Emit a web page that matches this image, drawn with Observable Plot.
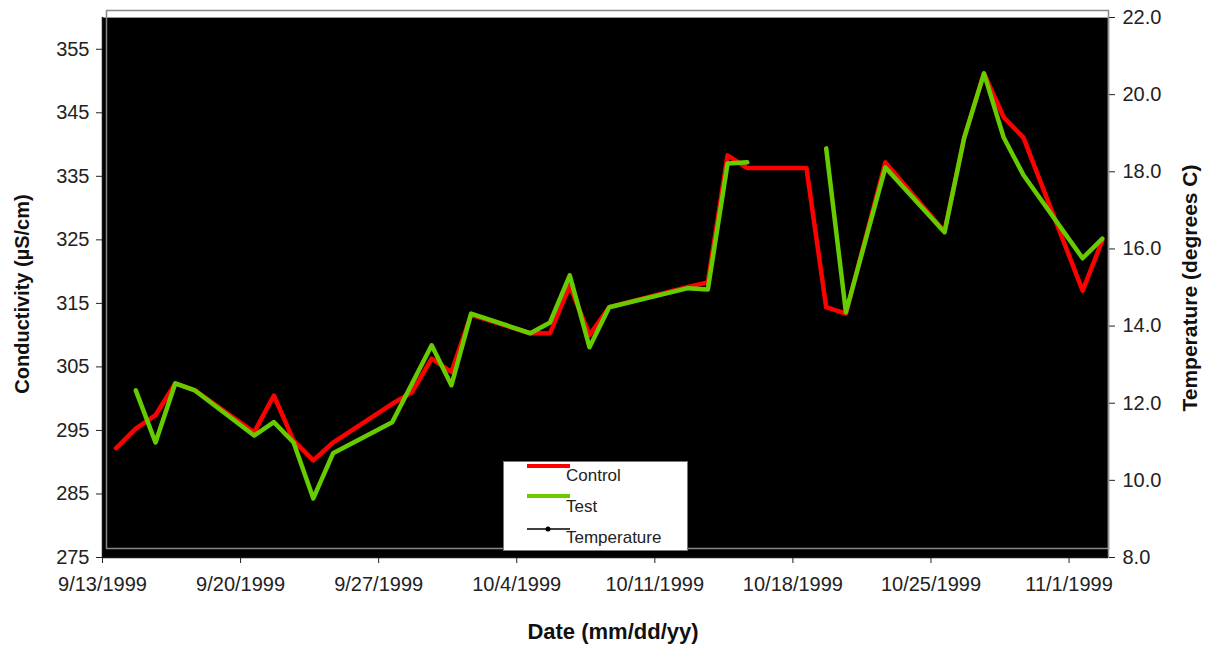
<!DOCTYPE html>
<html>
<head>
<meta charset="utf-8">
<script src="https://cdn.jsdelivr.net/npm/d3@7"></script>
<script src="https://cdn.jsdelivr.net/npm/@observablehq/plot@0.6"></script>
<style>
  html, body { margin: 0; padding: 0; background: white; }
  #wrap { position: relative; width: 1213px; height: 648px; font-family: "Liberation Sans", Arial, sans-serif; }
  #wrap svg { position: absolute; left: 0; top: 0; }
  .title { position: absolute; font-weight: bold; font-size: 20px; color: #111; white-space: nowrap; transform: translate(-50%, -50%); }
  .rot { transform: translate(-50%, -50%) rotate(-90deg); }
  #legend { position: absolute; left: 503px; top: 461px; width: 185px; height: 90px; background: white; border: 1px solid #777; box-sizing: border-box; }
  .lg { position: absolute; font-size: 17px; color: #222; white-space: nowrap; }
</style>
</head>
<body>
<div id="wrap">
  <div class="title rot" style="left:22px; top:294px; font-size:20px;">Conductivity (µS/cm)</div>
  <div class="title rot" style="left:1190px; top:288px; font-size:21px;">Temperature (degrees C)</div>
  <div class="title" style="left:613px; top:632px; font-size:22px;">Date (mm/dd/yy)</div>
  <div id="legend">
    <svg width="185" height="90" style="position:absolute;left:0;top:0">
      <line x1="23" x2="66" y1="4" y2="4" stroke="#ff0000" stroke-width="4"/>
      <line x1="23" x2="66" y1="34" y2="34" stroke="#66cc00" stroke-width="4"/>
      <line x1="23" x2="66" y1="67" y2="67" stroke="#000" stroke-width="1.5"/>
      <circle cx="44" cy="67" r="2.5" fill="#000"/>
    </svg>
    <div class="lg" style="left:62px; top:4px;">Control</div>
    <div class="lg" style="left:62px; top:35px;">Test</div>
    <div class="lg" style="left:62px; top:66px;">Temperature</div>
  </div>
</div>
<script>
// ---- data ----
const controlDates = ["1999-09-13","1999-09-14","1999-09-15","1999-09-16","1999-09-17","1999-09-20","1999-09-21","1999-09-22","1999-09-23","1999-09-24","1999-09-27","1999-09-28","1999-09-29","1999-09-30","1999-10-01","1999-10-04","1999-10-05","1999-10-06","1999-10-07","1999-10-08","1999-10-12","1999-10-13","1999-10-14","1999-10-15","1999-10-18","1999-10-19","1999-10-20","1999-10-22","1999-10-25","1999-10-26","1999-10-27","1999-10-28","1999-10-29","1999-11-01","1999-11-02"];
const controlValues = [292.2,295.3,297.4,302.4,301.3,294.7,300.5,293.4,290.3,293.1,299.2,301.0,306.3,304.2,313.2,310.3,310.3,317.8,310.0,314.4,317.6,318.3,338.3,336.3,336.3,314.4,313.4,337.2,326.3,341.1,351.2,344.3,341.1,317.0,324.9];

const testDates = ["1999-09-14","1999-09-15","1999-09-16","1999-09-17","1999-09-20","1999-09-21","1999-09-22","1999-09-23","1999-09-24","1999-09-27","1999-09-29","1999-09-30","1999-10-01","1999-10-04","1999-10-05","1999-10-06","1999-10-07","1999-10-08","1999-10-12","1999-10-13","1999-10-14","1999-10-15","1999-10-18","1999-10-19","1999-10-20","1999-10-22","1999-10-25","1999-10-26","1999-10-27","1999-10-28","1999-10-29","1999-11-01","1999-11-02"];
const testValues = [301.3,293.1,302.4,301.3,294.2,296.3,293.1,284.3,291.4,296.3,308.4,302.1,313.4,310.3,312.0,319.4,308.1,314.4,317.4,317.2,337.0,337.2,null,339.4,313.6,336.4,326.2,341.1,351.2,341.1,335.2,322.1,325.2];

// temperature line is drawn black on the black plot area (only glimpses visible)
const tempDates = ["1999-10-13","1999-10-20"];
const tempValues = [15.7, 14.3];

const conductivityTicks = [275,285,295,305,315,325,335,345,355];
const temperatureTicks = [8,10,12,14,16,18,20,22];
const dateTicks = ["1999-09-13","1999-09-20","1999-09-27","1999-10-04","1999-10-11","1999-10-18","1999-10-25","1999-11-01"];
const xStart = "1999-09-13", xEnd = "1999-11-03";
const yDomain = [275, 360], tDomain = [8, 22];

// ---- helpers ----
const at = (d) => new Date(d + "T16:30:00Z");
const day = (d) => new Date(d + "T00:00:00Z");
const t2c = (t) => yDomain[0] + (t - tDomain[0]) * (yDomain[1] - yDomain[0]) / (tDomain[1] - tDomain[0]);

const control = controlDates.map((d, i) => ({date: at(d), v: controlValues[i]}));
const test = testDates.map((d, i) => ({date: at(d), v: testValues[i]}));
const temp = tempDates.map((d, i) => ({date: at(d), v: t2c(tempValues[i])}));
const fmtDate = (d) => `${d.getUTCMonth() + 1}/${d.getUTCDate()}/${d.getUTCFullYear()}`;

const chart = Plot.plot({
  width: 1213,
  height: 648,
  marginLeft: 102,
  marginRight: 105,
  marginTop: 17,
  marginBottom: 91,
  style: {fontFamily: "'Liberation Sans', Arial, sans-serif", fontSize: "20px", color: "#222", background: "transparent"},
  x: {type: "utc", domain: [day(xStart), day(xEnd)]},
  y: {domain: yDomain},
  marks: [
    Plot.frame({fill: "black", stroke: "#999"}),
    Plot.frame({stroke: "#888", strokeWidth: 1.5, insetTop: -7, insetLeft: 4, insetBottom: 9}),
    Plot.axisX(dateTicks.map(day), {tickSize: 6, tickPadding: 13, tickFormat: fmtDate, label: null, stroke: "#222"}),
    Plot.axisY(conductivityTicks, {anchor: "left", tickSize: 6, tickPadding: 7, label: null, stroke: "#222"}),
    Plot.axisY(temperatureTicks.map(t2c), {anchor: "right", tickSize: 6, tickPadding: 8, label: null, stroke: "#222",
      tickFormat: (c) => (tDomain[0] + (c - yDomain[0]) * (tDomain[1] - tDomain[0]) / (yDomain[1] - yDomain[0])).toFixed(1)}),
    Plot.ruleX([day(xStart)], {stroke: "#111", strokeWidth: 1.5}),
    Plot.ruleX([day(xEnd)], {stroke: "#999", strokeWidth: 1.5}),
    Plot.ruleY([yDomain[0]], {stroke: "#111", strokeWidth: 1.5}),
    Plot.line(temp, {x: "date", y: "v", stroke: "#000", strokeWidth: 1}),
    Plot.dot(temp, {x: "date", y: "v", fill: "#000", r: 2}),
    Plot.line(control, {x: "date", y: "v", stroke: "#ff0000", strokeWidth: 4.5, strokeLinejoin: "round"}),
    Plot.line(test, {x: "date", y: "v", stroke: "#66cc00", strokeWidth: 4.5, strokeLinejoin: "round"})
  ]
});
document.getElementById("wrap").prepend(chart);
</script>
</body>
</html>
